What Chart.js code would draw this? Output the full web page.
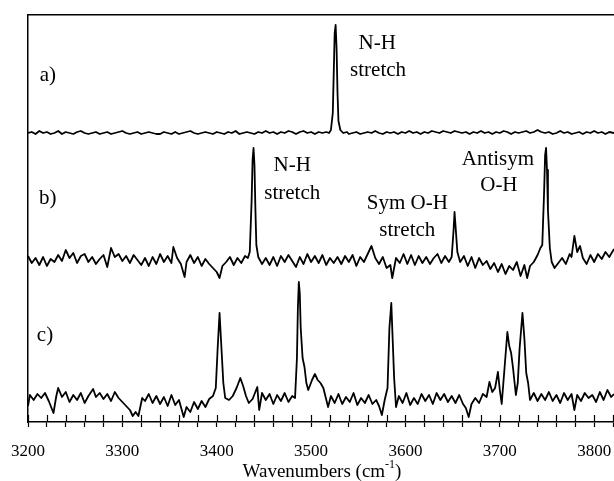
<!DOCTYPE html>
<html>
<head>
<meta charset="utf-8">
<script src="https://cdn.jsdelivr.net/npm/chart.js@4"></script>
<style>
  body { margin: 0; background: #fff; }
  canvas { display: block; }
</style>
</head>
<body>
<canvas id="spectra" width="614" height="481"></canvas>
<script>
// [wavenumber, intensity above own baseline]
var spectrumA = [
  [3200,0],[3204,1],[3208,-1],[3212,2],[3216,0],[3220,1],[3224,-1],[3228,0],[3232,2],[3236,-1],
  [3240,1],[3244,0],[3248,-1],[3252,1],[3256,2],[3260,0],[3264,-1],[3268,0],[3272,1],[3276,-1],
  [3280,0],[3284,1],[3288,-1],[3292,0],[3296,1],[3300,2],[3304,0],[3308,-1],[3312,0],[3316,1],
  [3320,-1],[3324,0],[3328,1],[3332,0],[3336,-1],[3340,-1],[3344,1],[3348,0],[3352,-1],[3356,1],
  [3360,-1],[3364,0],[3368,1],[3372,2],[3376,0],[3380,-1],[3384,0],[3388,1],[3392,0],[3396,-1],
  [3400,1],[3404,0],[3408,-1],[3412,1],[3416,0],[3420,2],[3424,-1],[3428,0],[3432,1],[3436,0],
  [3440,-1],[3444,1],[3448,0],[3452,2],[3456,0],[3460,1],[3464,-1],[3468,1],[3472,0],[3476,2],
  [3480,1],[3484,-1],[3488,1],[3492,2],[3496,0],[3500,1],[3504,-1],[3508,1],[3512,0],[3516,1],
  [3519,0],[3521,3],[3523,20],[3524,60],[3525,100],[3526,108],[3527,85],[3528,40],[3529,12],[3531,3],
  [3534,0],[3538,1],[3540,-1],[3544,0],[3548,1],[3552,-1],[3556,0],[3560,1],[3564,0],[3568,2],
  [3572,0],[3576,-1],[3580,1],[3584,0],[3588,1],[3592,-1],[3596,1],[3600,0],[3604,2],[3608,0],
  [3612,1],[3616,-1],[3620,1],[3624,0],[3628,2],[3632,1],[3636,0],[3640,2],[3644,1],[3648,0],
  [3652,2],[3656,1],[3660,0],[3664,1],[3668,-1],[3672,1],[3676,0],[3680,2],[3684,0],[3688,1],
  [3692,-1],[3696,1],[3700,0],[3704,2],[3708,1],[3712,-1],[3716,1],[3720,0],[3724,1],[3728,2],
  [3732,0],[3736,1],[3740,3],[3744,1],[3748,0],[3752,1],[3756,-1],[3760,0],[3764,2],[3768,0],
  [3772,1],[3776,-1],[3780,0],[3784,1],[3788,-1],[3792,1],[3796,0],[3800,2],[3804,0],[3808,1],
  [3812,-1],[3816,1],[3821,0]
];

var spectrumB = [
  [3200,4],[3204,-3],[3208,2],[3212,-5],[3216,3],[3220,-6],[3224,1],[3228,-2],[3232,5],[3236,-1],
  [3240,10],[3244,2],[3248,7],[3252,-3],[3256,4],[3260,6],[3264,-2],[3268,3],[3272,-4],[3276,1],
  [3280,5],[3284,-7],[3288,12],[3292,3],[3296,6],[3300,-1],[3304,4],[3308,-3],[3312,5],[3316,0],
  [3320,-5],[3324,2],[3328,-6],[3332,3],[3336,-4],[3340,6],[3344,-2],[3348,4],[3352,-3],[3354,13],
  [3358,2],[3362,-4],[3366,-17],[3368,-2],[3372,5],[3376,-3],[3380,3],[3384,-6],[3388,1],[3392,-4],
  [3396,-8],[3400,-12],[3403,-18],[3406,-6],[3410,-2],[3414,3],[3418,-5],[3422,2],[3426,-3],[3430,4],
  [3433,2],[3435,8],[3437,60],[3438,100],[3439,112],[3440,95],[3441,50],[3442,15],[3444,3],[3448,-4],
  [3452,2],[3456,-5],[3460,3],[3464,-6],[3468,4],[3472,-2],[3476,5],[3480,-1],[3484,-7],[3488,3],
  [3492,-4],[3496,6],[3500,-2],[3504,4],[3508,-3],[3512,5],[3516,-5],[3520,2],[3524,-3],[3528,3],
  [3532,-4],[3536,4],[3540,-2],[3544,5],[3548,-6],[3552,3],[3556,-2],[3560,6],[3564,14],[3568,2],
  [3572,-4],[3576,3],[3580,-8],[3584,-5],[3586,-18],[3590,2],[3594,-3],[3598,6],[3602,-4],[3606,5],
  [3610,-5],[3614,4],[3618,-3],[3622,3],[3626,-4],[3630,2],[3634,6],[3638,-3],[3642,4],[3646,-2],
  [3649,3],[3651,30],[3652,48],[3653,35],[3655,8],[3658,-2],[3662,4],[3666,-6],[3670,3],[3674,-8],
  [3678,2],[3682,-5],[3686,-1],[3690,-9],[3694,-3],[3698,-12],[3702,-4],[3706,-14],[3710,-6],[3714,-10],
  [3718,-2],[3722,-16],[3726,-5],[3729,-18],[3732,-6],[3736,-2],[3740,5],[3743,12],[3745,15],[3747,70],
  [3748,105],[3749,112],[3750,90],[3751,50],[3753,12],[3755,-2],[3758,-8],[3762,-3],[3766,2],[3770,-4],
  [3774,6],[3776,3],[3779,24],[3782,8],[3785,14],[3788,2],[3792,-4],[3796,5],[3800,-2],[3804,6],
  [3808,1],[3812,8],[3816,3],[3821,11]
];

var spectrumC = [
  [3200,-8],[3202,3],[3206,-2],[3210,4],[3214,0],[3218,5],[3222,-3],[3227,-15],[3230,2],[3232,10],
  [3236,1],[3240,6],[3244,-4],[3248,3],[3252,-2],[3256,5],[3260,-5],[3264,2],[3269,9],[3272,1],
  [3276,5],[3280,-1],[3284,4],[3288,-3],[3292,6],[3296,0],[3300,-4],[3304,-8],[3308,-12],[3311,-18],
  [3314,-14],[3317,-18],[3321,0],[3324,-3],[3328,4],[3332,-5],[3336,2],[3340,-6],[3344,1],[3348,-8],
  [3352,3],[3356,-7],[3360,-2],[3365,-19],[3368,-9],[3372,-14],[3376,-4],[3380,-11],[3384,-3],[3388,-9],
  [3392,-1],[3396,2],[3399,10],[3401,50],[3403,85],[3405,50],[3407,15],[3409,0],[3413,-2],[3417,2],
  [3421,10],[3425,20],[3428,12],[3431,2],[3434,-5],[3438,-1],[3443,11],[3445,-12],[3448,5],[3452,-2],
  [3456,4],[3460,-6],[3464,3],[3468,-3],[3472,5],[3476,-4],[3480,2],[3483,0],[3485,40],[3486,90],
  [3487,116],[3488,105],[3489,70],[3491,40],[3493,31],[3495,15],[3497,8],[3501,18],[3504,24],[3507,18],
  [3510,15],[3513,10],[3518,-9],[3521,2],[3525,-5],[3529,4],[3533,-6],[3537,1],[3541,-4],[3545,5],
  [3549,-7],[3553,0],[3557,-5],[3561,3],[3565,-6],[3569,-2],[3572,-8],[3575,-17],[3578,-2],[3581,10],
  [3583,70],[3585,95],[3586,70],[3588,20],[3590,-9],[3593,2],[3597,-5],[3601,5],[3605,-7],[3609,0],
  [3613,-6],[3617,4],[3621,-3],[3625,3],[3629,-6],[3633,5],[3637,-2],[3641,4],[3645,-4],[3649,2],
  [3653,-5],[3657,3],[3661,-6],[3664,-10],[3667,-19],[3670,-6],[3674,0],[3678,-5],[3682,4],[3686,1],
  [3689,16],[3692,6],[3695,10],[3698,26],[3700,8],[3702,-6],[3705,30],[3708,66],[3710,52],[3712,45],
  [3714,30],[3717,3],[3719,15],[3721,50],[3724,85],[3726,60],[3728,25],[3730,15],[3732,-2],[3736,5],
  [3740,-3],[3744,4],[3748,-2],[3752,6],[3756,-3],[3760,3],[3764,-5],[3768,5],[3772,-2],[3776,4],
  [3779,-12],[3782,3],[3786,-3],[3790,5],[3794,0],[3798,3],[3802,-4],[3806,6],[3810,-2],[3814,8],
  [3818,1],[3821,4]
];

// vertical stacking of the three traces
var traceOffsets = [289, 162, 24];

var majorTicks = [3200, 3300, 3400, 3500, 3600, 3700, 3800];
var minorTicks = [3200,3220,3240,3260,3280,3300,3320,3340,3360,3380,3400,3420,3440,3460,3480,
  3500,3520,3540,3560,3580,3600,3620,3640,3660,3680,3700,3720,3740,3760,3780,3800,3820];

// text written on the plot: [text, wavenumber, height]
var annotations = [
  ["a)", 3221, 347],
  ["N-H", 3570, 379], ["stretch", 3571, 352],
  ["b)", 3221, 224],
  ["N-H", 3480, 257], ["stretch", 3480, 229],
  ["Sym O-H", 3602, 219], ["stretch", 3602, 192],
  ["Antisym", 3698, 263], ["O-H", 3699, 237],
  ["c)", 3218, 87]
];

function toPoints(spec, off) {
  return spec.map(function (p) { return { x: p[0], y: p[1] + off }; });
}

var serif = "'Liberation Serif', 'Times New Roman', serif";

var extras = {
  id: "extras",
  afterDraw: function (chart) {
    var ctx = chart.ctx;
    var xs = chart.scales.x;
    var ys = chart.scales.y;
    var area = chart.chartArea;
    ctx.save();
    // inner half of the tick marks
    ctx.strokeStyle = "#000";
    ctx.lineWidth = 1.2;
    xs.ticks.forEach(function (t) {
      var px = Math.round(xs.getPixelForValue(t.value)) + 0.5;
      ctx.beginPath();
      ctx.moveTo(px, area.bottom);
      ctx.lineTo(px, area.bottom - 7);
      ctx.stroke();
    });
    // labels on the spectra
    ctx.fillStyle = "#000";
    ctx.font = "21px " + serif;
    ctx.textAlign = "center";
    ctx.textBaseline = "middle";
    annotations.forEach(function (a) {
      ctx.fillText(a[0], xs.getPixelForValue(a[1]), ys.getPixelForValue(a[2]));
    });
    // axis title with superscript
    var main = "Wavenumbers (cm";
    var sup = "-1";
    var tail = ")";
    ctx.font = "19px " + serif;
    var w1 = ctx.measureText(main).width;
    var w3 = ctx.measureText(tail).width;
    ctx.font = "12px " + serif;
    var w2 = ctx.measureText(sup).width;
    var cx = 322;
    var x0 = cx - (w1 + w2 + w3) / 2;
    var y0 = 472;
    ctx.textAlign = "left";
    ctx.font = "19px " + serif;
    ctx.fillText(main, x0, y0);
    ctx.font = "12px " + serif;
    ctx.fillText(sup, x0 + w1, y0 - 7);
    ctx.font = "19px " + serif;
    ctx.fillText(tail, x0 + w1 + w2, y0);
    ctx.restore();
  }
};

var line = { borderColor: "#000", borderWidth: 1.8, pointRadius: 0, tension: 0, fill: false, borderJoinStyle: "round" };

new Chart(document.getElementById("spectra"), {
  type: "line",
  data: {
    datasets: [
      Object.assign({ label: "a)", data: toPoints(spectrumA, traceOffsets[0]) }, line),
      Object.assign({ label: "b)", data: toPoints(spectrumB, traceOffsets[1]) }, line),
      Object.assign({ label: "c)", data: toPoints(spectrumC, traceOffsets[2]) }, line)
    ]
  },
  options: {
    responsive: false,
    animation: false,
    layout: { padding: 0 },
    plugins: { legend: { display: false }, tooltip: { enabled: false } },
    scales: {
      x: {
        type: "linear",
        position: "bottom",
        min: 3200,
        max: 3821,
        afterBuildTicks: function (scale) {
          scale.ticks = minorTicks.map(function (v) { return { value: v }; });
        },
        afterFit: function (scale) {
          scale.height = 59;
          scale.paddingLeft = 0;
          scale.paddingRight = 0;
        },
        grid: { drawOnChartArea: false, drawTicks: true, tickLength: 5, color: "#000", tickWidth: 1.2 },
        border: { display: true, color: "#000", width: 1.5 },
        ticks: {
          autoSkip: false,
          maxRotation: 0,
          padding: 14,
          color: "#000",
          font: { family: serif, size: 17 },
          callback: function (v) { return majorTicks.indexOf(v) >= 0 ? String(v) : ""; }
        }
      },
      x2: {
        type: "linear",
        position: "top",
        min: 3200,
        max: 3821,
        afterFit: function (scale) {
          scale.height = 15;
          scale.paddingLeft = 0;
          scale.paddingRight = 0;
        },
        grid: { display: false, drawTicks: false },
        border: { display: true, color: "#000", width: 1.5 },
        ticks: { display: false }
      },
      y: {
        min: 0,
        max: 407,
        afterFit: function (scale) { scale.width = 28; },
        grid: { display: false, drawTicks: false },
        border: { display: true, color: "#000", width: 1.5 },
        ticks: { display: false }
      }
    }
  },
  plugins: [extras]
});
</script>
</body>
</html>
